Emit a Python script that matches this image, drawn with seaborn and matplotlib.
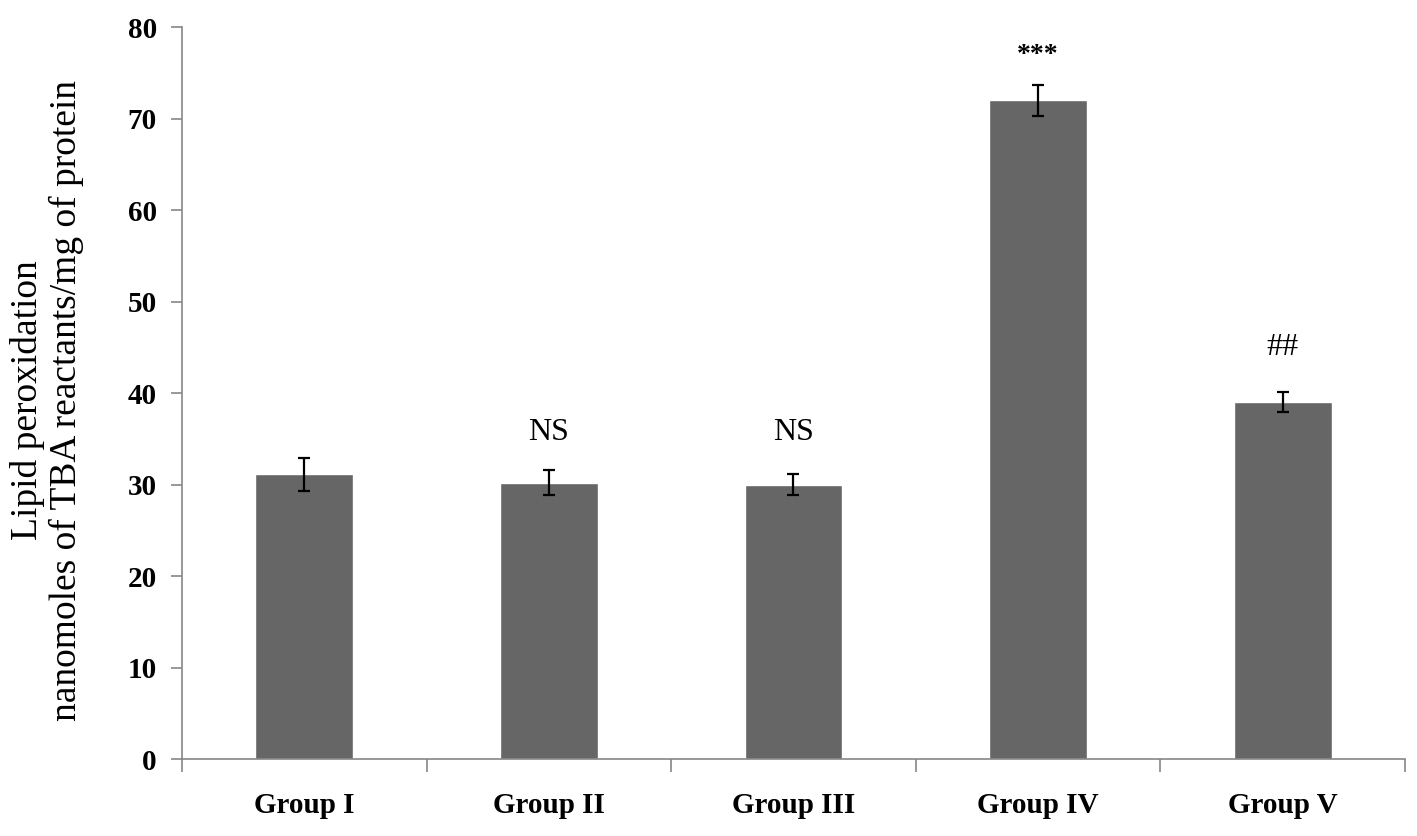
import numpy as np
import pandas as pd
import seaborn as sns
import matplotlib.pyplot as plt

groups = ['Group I', 'Group II', 'Group III', 'Group IV', 'Group V']
means = [31.1, 30.2, 30.0, 72.0, 39.0]
errors = [1.8, 1.4, 1.1, 1.7, 1.1]
marks = ['', 'NS', 'NS', '***', '##']
mark_y = [0, 35.7, 35.7, 76.9, 45.0]

df = pd.DataFrame({'group': groups, 'mean': means, 'err': errors})

sns.set_style('white')
plt.rcParams['font.family'] = ['Liberation Serif', 'DejaVu Serif']
plt.rcParams['text.color'] = 'black'
plt.rcParams['axes.labelcolor'] = 'black'
plt.rcParams['xtick.color'] = 'black'
plt.rcParams['ytick.color'] = 'black'

fig = plt.figure(figsize=(14.17, 8.36), dpi=100)
ax = fig.add_axes([0.1284, 0.0921, 0.8631, 0.8756])

sns.barplot(data=df, x='group', y='mean', color='#666666', width=0.4,
            errorbar=None, saturation=1, ax=ax)
ax.errorbar(np.arange(len(groups)), df['mean'], yerr=df['err'], fmt='none',
            ecolor='black', elinewidth=1.6, capsize=4, capthick=1.6)

for i, m in enumerate(marks):
    if m:
        ax.text(i, mark_y[i], m, ha='center', va='center',
                fontsize=20 if m == '***' else 23,
                fontweight='bold' if m == '***' else 'normal')

ax.set_xlim(-0.5, len(groups) - 0.5)
ax.set_ylim(0, 80)
ax.set_yticks(range(0, 81, 10))
ax.set_xlabel('')
ax.set_ylabel('Lipid peroxidation\nnanomoles of TBA reactants/mg of protein',
              fontsize=27, linespacing=1.15)
ax.yaxis.set_label_coords(-0.08, 0.49)

ax.set_xticks(np.arange(len(groups)))
ax.set_xticklabels(groups)
ax.set_xticks(np.arange(-0.5, len(groups)), minor=True)
ax.tick_params(axis='x', which='major', bottom=True, length=0, pad=24)
ax.tick_params(axis='x', which='minor', bottom=True, length=9, width=1.2,
               color='#868686', direction='out')
ax.tick_params(axis='y', left=True, length=8, width=1.2, color='#868686',
               direction='out', pad=10)
for lab in ax.get_xticklabels() + ax.get_yticklabels():
    lab.set_fontweight('bold')
    lab.set_fontsize(21)
    lab.set_color('black')

for s in ['top', 'right']:
    ax.spines[s].set_visible(False)
for s in ['left', 'bottom']:
    ax.spines[s].set_color('#868686')
    ax.spines[s].set_linewidth(1.2)

fig.savefig('out.png', dpi=100)
